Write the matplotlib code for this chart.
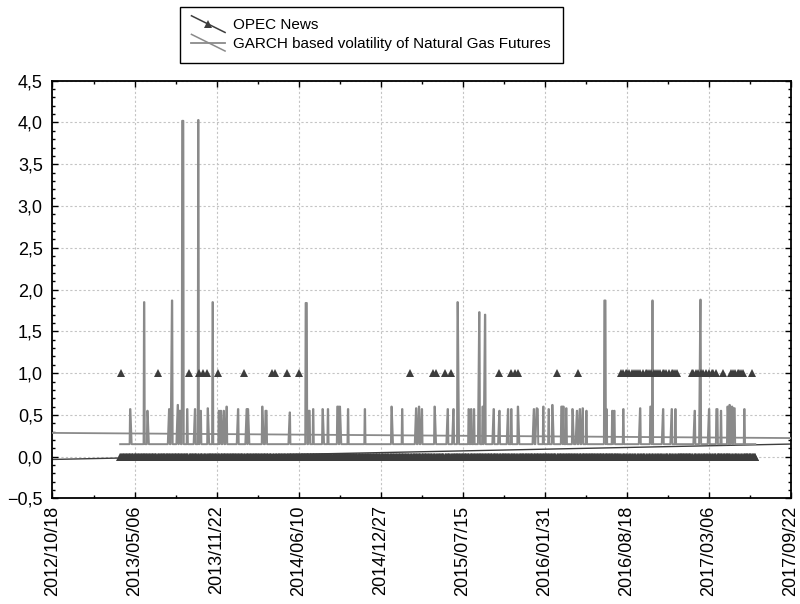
import matplotlib
matplotlib.use("Agg")
import matplotlib.pyplot as plt
import matplotlib.dates as mdates
import numpy as np
import pandas as pd
from matplotlib.legend_handler import HandlerBase
from matplotlib.lines import Line2D
from matplotlib.ticker import FixedLocator, FuncFormatter, MultipleLocator

plt.rcParams['font.family'] = ['Liberation Sans', 'DejaVu Sans']

# sample of daily observations
sample_start = "2013-04-01"
sample_end = "2017-06-27"

# days with OPEC news (value 1, all other days 0)
opec_news_dates = [
    "2013-04-03", "2013-06-30", "2013-09-14", "2013-10-10", "2013-10-20",
    "2013-10-30", "2013-11-23", "2014-01-25", "2014-04-05", "2014-04-12",
    "2014-05-13", "2014-06-12", "2015-03-07", "2015-05-03", "2015-05-09",
    "2015-06-02", "2015-06-16", "2015-10-11", "2015-11-08", "2015-11-19",
    "2015-11-26", "2016-02-29", "2016-04-20", "2016-08-03", "2016-08-09",
    "2016-08-14", "2016-08-19", "2016-08-24", "2016-08-30", "2016-09-04",
    "2016-09-09", "2016-09-14", "2016-09-20", "2016-09-25", "2016-10-01",
    "2016-10-06", "2016-10-11", "2016-10-16", "2016-10-22", "2016-10-27",
    "2016-11-01", "2016-11-06", "2016-11-12", "2016-11-17", "2016-11-22",
    "2016-11-28", "2016-12-03", "2016-12-08", "2016-12-14", "2016-12-19",
    "2017-01-21", "2017-01-27", "2017-02-02", "2017-02-08", "2017-02-14",
    "2017-02-20", "2017-02-26", "2017-03-05", "2017-03-11", "2017-03-17",
    "2017-03-23", "2017-04-10", "2017-04-28", "2017-05-04", "2017-05-09",
    "2017-05-14", "2017-05-18", "2017-05-23", "2017-05-27", "2017-06-18",
]

# GARCH volatility: calm level and the bursts above it
garch_baseline = 0.15
garch_spike_dates = [
    "2013-04-25", "2013-05-29", "2013-06-06", "2013-07-29", "2013-08-04",
    "2013-08-18", "2013-08-23", "2013-08-30", "2013-09-11", "2013-09-30",
    "2013-10-08", "2013-10-14", "2013-10-31", "2013-11-12", "2013-11-27",
    "2013-12-02", "2013-12-08", "2013-12-14", "2014-01-13", "2014-02-01",
    "2014-02-06", "2014-03-13", "2014-03-21", "2014-05-19", "2014-06-27",
    "2014-07-04", "2014-07-15", "2014-08-07", "2014-08-20", "2014-09-12",
    "2014-09-18", "2014-10-08", "2014-11-18", "2015-01-22", "2015-02-17",
    "2015-03-22", "2015-03-28", "2015-04-05", "2015-05-07", "2015-06-07",
    "2015-06-21", "2015-07-02", "2015-07-29", "2015-08-04", "2015-08-11",
    "2015-08-22", "2015-09-01", "2015-09-07", "2015-09-28", "2015-10-12",
    "2015-10-31", "2015-11-10", "2015-11-26", "2016-01-04", "2016-01-10",
    "2016-01-13", "2016-01-27", "2016-02-09", "2016-02-18", "2016-03-11",
    "2016-03-16", "2016-03-23", "2016-04-07", "2016-04-18", "2016-04-24",
    "2016-04-30", "2016-05-11", "2016-06-24", "2016-06-29", "2016-07-13",
    "2016-07-18", "2016-08-09", "2016-09-19", "2016-10-14", "2016-10-19",
    "2016-11-13", "2016-12-03", "2016-12-14", "2017-01-29", "2017-02-12",
    "2017-03-04", "2017-03-24", "2017-04-04", "2017-04-20", "2017-04-25",
    "2017-04-30", "2017-05-05", "2017-05-31",
]
garch_spike_heights = [
    0.57, 1.85, 0.55, 0.57, 1.87,
    0.62, 0.55, 4.02, 0.57, 0.57,
    4.03, 0.55, 0.58, 1.85, 0.55,
    0.55, 0.55, 0.60, 0.57, 0.57,
    0.57, 0.60, 0.55, 0.53, 1.84,
    0.55, 0.57, 0.57, 0.57, 0.60,
    0.60, 0.57, 0.57, 0.60, 0.57,
    0.58, 0.60, 0.57, 0.60, 0.57,
    0.57, 1.85, 0.57, 0.57, 0.57,
    1.73, 0.60, 1.70, 0.57, 0.55,
    0.57, 0.57, 0.60, 0.57, 0.58,
    0.57, 0.60, 0.57, 0.62, 0.60,
    0.60, 0.58, 0.57, 0.55, 0.57,
    0.58, 0.55, 1.87, 0.57, 0.55,
    0.55, 0.57, 0.58, 0.60, 1.87,
    0.57, 0.57, 0.57, 0.55, 1.88,
    0.57, 0.57, 0.55, 0.60, 0.62,
    0.60, 0.58, 0.57,
]

x_start = "2012-10-18"
x_end = "2017-09-22"
tick_step_days = 200

opec_label = "OPEC News"
garch_label = "GARCH based volatility of Natural Gas Futures"

dark = "#3d3d3d"
grey = "#8a8a8a"


class StatHandler(HandlerBase):
    """legend key: optional flat line, diagonal fit line, optional marker"""

    def __init__(self, flat_color=None, diag_color="k", marker=None, color="k"):
        super().__init__()
        self.flat_color = flat_color
        self.diag_color = diag_color
        self.marker = marker
        self.color = color

    def create_artists(self, legend, orig_handle, xdescent, ydescent,
                       width, height, fontsize, trans):
        x0 = -xdescent
        x1 = -xdescent + width
        ym = height / 2 - ydescent
        out = []
        if self.flat_color:
            out.append(Line2D([x0, x1], [ym, ym], color=self.flat_color,
                              lw=1.3, transform=trans))
        out.append(Line2D([x0, x1], [ym + 6, ym - 6], color=self.diag_color,
                          lw=1.1, transform=trans))
        if self.marker:
            out.append(Line2D([(x0 + x1) / 2], [ym], marker=self.marker,
                              color=self.color, ms=6, mew=0, ls="none",
                              transform=trans))
        return out


days = pd.bdate_range(sample_start, sample_end)
xn = mdates.date2num(days)

opec = np.zeros(len(days))
idx = np.clip(days.searchsorted(pd.to_datetime(opec_news_dates)), 0, len(days) - 1)
opec[idx] = 1.0

garch = np.full(len(days), garch_baseline)
sidx = days.searchsorted(pd.to_datetime(garch_spike_dates))
for i, h in zip(sidx, garch_spike_heights):
    garch[i:i + 2] = h

x0 = mdates.date2num(pd.Timestamp(x_start))
x1 = mdates.date2num(pd.Timestamp(x_end))
xfit = np.array([x0, x1])
opec_fit = np.polyval(np.polyfit(xn, opec, 1), xfit)
garch_fit = np.polyval(np.polyfit(xn, garch, 1), xfit)

fig = plt.figure(figsize=(8, 6.04), dpi=100)
ax = fig.add_axes([0.0656, 0.1747, 0.9231, 0.6917])

ax.plot(xfit, opec_fit, color=dark, lw=1.0, zorder=2)
ax.plot(xn, garch, color=grey, lw=1.4, zorder=3)
ax.plot(xfit, garch_fit, color=grey, lw=1.3, zorder=3)
ax.plot(xn, opec, ls="none", marker="^", ms=6, mew=0, color=dark, zorder=4)

ax.set_xlim(x0, x1)
ax.set_ylim(-0.5, 4.5)

ax.xaxis.set_major_locator(FixedLocator(np.arange(x0, x1 + 1, tick_step_days)))
ax.xaxis.set_minor_locator(FixedLocator(np.arange(x0, x1 + 1, tick_step_days / 2)))
ax.xaxis.set_major_formatter(mdates.DateFormatter("%Y/%m/%d"))
ax.yaxis.set_major_locator(MultipleLocator(0.5))
ax.yaxis.set_minor_locator(MultipleLocator(0.1))
ax.yaxis.set_major_formatter(FuncFormatter(
    lambda v, p: f"{v:.1f}".replace(".", ",").replace("-", "\u2212")))

ax.tick_params(which="both", direction="in", top=True, right=True,
               labelsize=13, width=1.0, color="k")
ax.tick_params(which="major", length=4)
ax.tick_params(which="minor", length=2.2)
ax.tick_params(axis="x", which="major", rotation=90, pad=5)
ax.tick_params(axis="y", which="major", pad=7)
for s in ax.spines.values():
    s.set_linewidth(1.3)

ax.grid(True, which="major", color="#c4c4c4", ls=(0, (2, 2)), lw=0.8)
ax.set_axisbelow(True)

h1 = Line2D([], [], label=opec_label)
h2 = Line2D([], [], label=garch_label)
leg = fig.legend(
    [h1, h2], [opec_label, garch_label],
    handler_map={h1: StatHandler(diag_color=dark, marker="^", color=dark),
                 h2: StatHandler(flat_color=grey, diag_color=grey)},
    loc="upper left", bbox_to_anchor=(180 / 800, 1 - 7 / 604),
    borderaxespad=0, fontsize=11, handlelength=2.2, handletextpad=0.55,
    borderpad=0.75, labelspacing=0.3, fancybox=False, framealpha=1,
    edgecolor="k",
)
leg.get_frame().set_linewidth(1.0)

fig.savefig("out.png", dpi=100)
